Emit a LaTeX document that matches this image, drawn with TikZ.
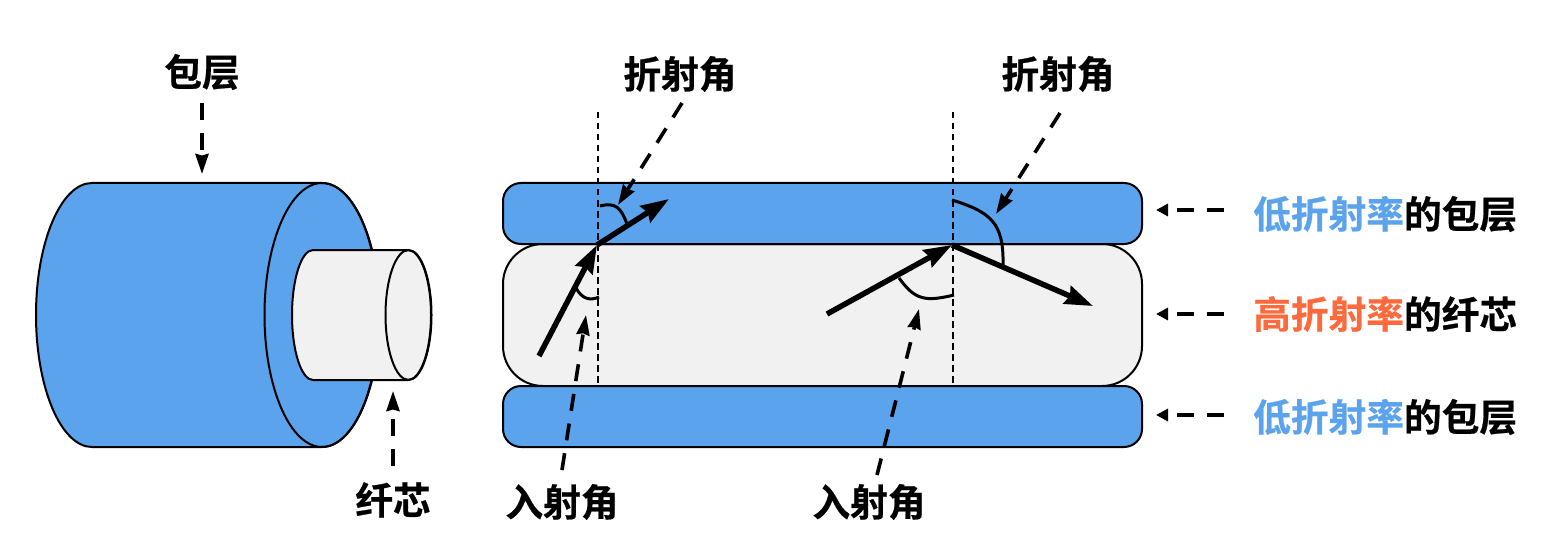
\documentclass[tikz,border=0pt]{standalone}
\usepackage{fontspec}
\setmainfont{Noto Sans CJK SC}[BoldFont={Noto Sans CJK SC Bold},BoldFeatures={FakeBold=0.6}]
\usetikzlibrary{arrows.meta}
\definecolor{clad}{HTML}{5BA3EC}
\definecolor{corefill}{HTML}{F1F1F1}
\definecolor{hot}{HTML}{FF6A3D}
\tikzset{
  x=1pt,y=-1pt,
  shape outline/.style={draw=black,line width=2pt},
  cladshape/.style={shape outline,fill=clad},
  coreshape/.style={shape outline,fill=corefill},
  lbl/.style={font=\fontsize{37.7}{42}\selectfont\bfseries,inner sep=0pt},
  callout/.style={line width=3.6pt,dash pattern=on 17pt off 13pt,-{Stealth[length=20pt,width=13pt,inset=1.5pt]}},
  shortcallout/.style={line width=3.6pt,dash pattern=on 17pt off 13pt,-{Triangle[length=12pt,width=12pt]}},
  normalline/.style={line width=2pt,dash pattern=on 6.5pt off 4.5pt},
  ray/.style={line width=5.5pt,-{Stealth[length=28pt,width=19pt,inset=3pt]}},
  anglemark/.style={line width=3pt}
}
\begin{document}
\begin{tikzpicture}
\useasboundingbox (0,0) rectangle (1557,556);
% cylinder
\path[cladshape] (92,183) -- (322,183) arc[start angle=-90,end angle=90,x radius=57,y radius=132] -- (92,447) arc[start angle=90,end angle=270,x radius=56,y radius=132] -- cycle;
\draw[shape outline] (322,315) ellipse[x radius=57.5,y radius=132];
\path[coreshape] (313,250) -- (408,250) arc[start angle=-90,end angle=90,x radius=23,y radius=65] -- (313,380) arc[start angle=90,end angle=270,x radius=21,y radius=65] -- cycle;
\draw[shape outline] (408.5,315) ellipse[x radius=23,y radius=65];
% slab
\node[coreshape,rounded corners=40pt,minimum width=639pt,minimum height=142pt,inner sep=0pt] (corebar) at (822.5,315) {};
\node[cladshape,rounded corners=18pt,minimum width=639pt,minimum height=61pt,inner sep=0pt] (topbar) at (822.5,213.5) {};
\node[cladshape,rounded corners=18pt,minimum width=639pt,minimum height=61pt,inner sep=0pt] (botbar) at (822.5,416.5) {};
% normals
\coordinate (n1t) at (597.5,112);
\coordinate (n1b) at (597.5,386);
\coordinate (n2t) at (952.5,112);
\coordinate (n2b) at (952.5,386);
\draw[normalline] (n1t) -- (n1b);
\draw[normalline] (n2t) -- (n2b);
% rays
\coordinate (hit1) at (597,245);
\coordinate (hit2) at (952,245);
\coordinate (in1) at (539,356);
\coordinate (out1) at (669,199);
\coordinate (in2) at (827,314);
\coordinate (out2) at (1093,306);
\draw[ray] (in1) -- (hit1);
\draw[ray] (hit1) -- (out1);
\draw[ray] (in2) -- (hit2);
\draw[ray] (hit2) -- (out2);
% angle marks
\draw[anglemark] (600,206) .. controls (616,202) and (621,208) .. (627,224);
\draw[anglemark] (576,288) .. controls (582,299) and (590,301) .. (599,297);
\draw[anglemark] (952,200) .. controls (990,212) and (1004,222) .. (1003,265);
\draw[anglemark] (899,278) .. controls (915,300) and (925,302) .. (954,295);
% labels
\node[lbl] (baoceng) at (202,72) {包层};
\node[lbl] (xianxin) at (393,500) {纤芯};
\node[lbl] (zhe1) at (680,74) {折射角};
\node[lbl] (zhe2) at (1058,74) {折射角};
\node[lbl] (ru1) at (562,502) {入射角};
\node[lbl] (ru2) at (869,502) {入射角};
\node[lbl,anchor=west] (r1) at (1253,214) {\textcolor{clad}{低折射率}的包层};
\node[lbl,anchor=west] (r2) at (1253,314) {\textcolor{hot}{高折射率}的纤芯};
\node[lbl,anchor=west] (r3) at (1253,417) {\textcolor{clad}{低折射率}的包层};
% callouts
\coordinate (a1) at (202,174);
\coordinate (a2) at (393,391);
\coordinate (a3) at (618,205);
\coordinate (a4) at (586,315);
\coordinate (a5) at (996,214);
\coordinate (a6) at (919,309);
\coordinate (a7) at (1156,210);
\coordinate (a8) at (1156,314);
\coordinate (a9) at (1156,415);
\coordinate (s1) at (202,103);
\coordinate (s2) at (393,466);
\coordinate (s3) at (682,103);
\coordinate (s4) at (562,470);
\coordinate (s5) at (1060,113);
\coordinate (s6) at (877,475);
\coordinate (s7) at (1224,210);
\coordinate (s8) at (1224,314);
\coordinate (s9) at (1224,415);
\foreach \i in {1,...,6}{\draw[callout] (s\i) -- (a\i);}
\foreach \i in {7,8,9}{\draw[shortcallout] (s\i) -- (a\i);}
\end{tikzpicture}
\end{document}
